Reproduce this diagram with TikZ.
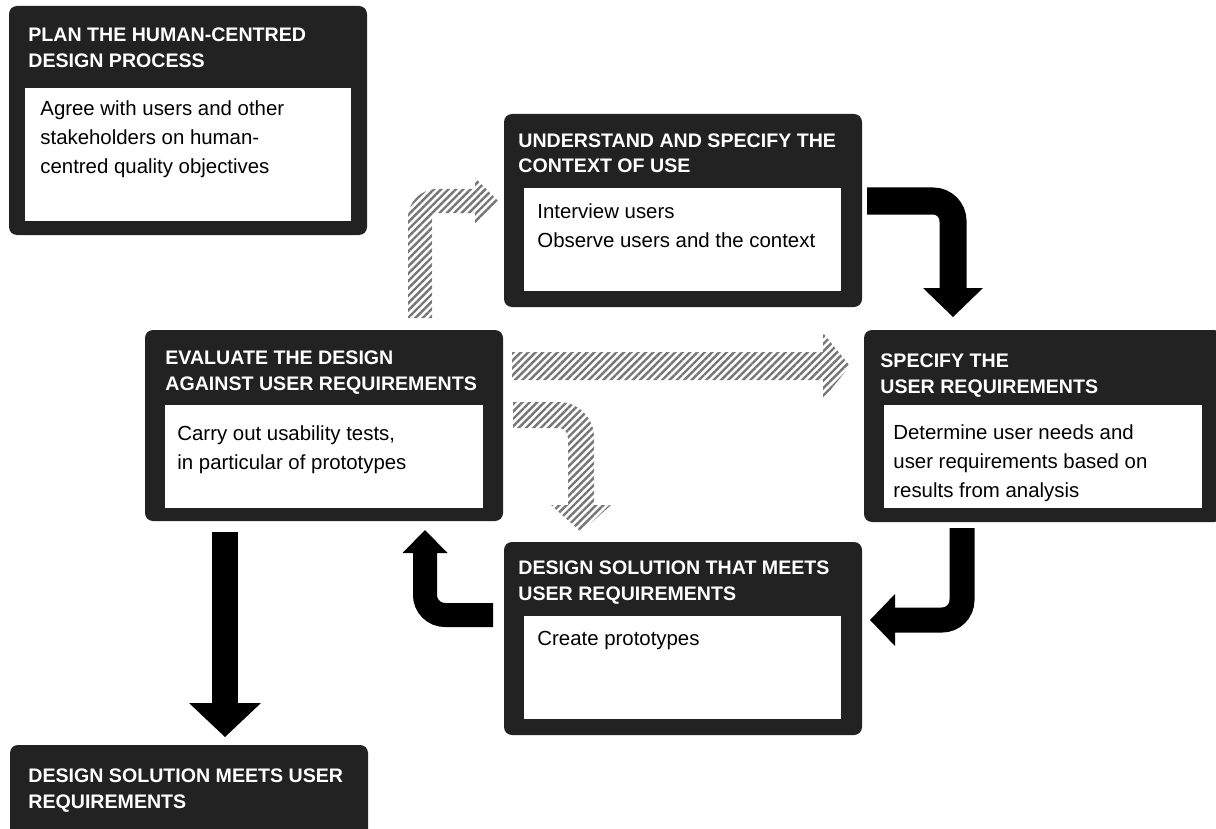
\documentclass[tikz,border=0pt]{standalone}
\usepackage{fontspec}
\setmainfont{Liberation Sans}
\usetikzlibrary{arrows.meta,patterns.meta}

\definecolor{phasegray}{HTML}{222222}
\definecolor{hatchgray}{HTML}{767676}

\tikzset{
  phase/.style={fill=phasegray, rounded corners=4pt, anchor=north west,
    inner sep=0pt, outer sep=0pt, minimum width=179pt},
  phasebody/.style={fill=white, anchor=north west, inner sep=0pt, outer sep=0pt},
  phasetitle/.style={text=white, font=\fontsize{9.8}{13}\selectfont\bfseries,
    anchor=base west, align=left, inner sep=0pt},
  phasetext/.style={font=\fontsize{10.2}{14.5}\selectfont,
    anchor=base west, align=left, inner sep=0pt},
  blockarrow/.style={line width=#1, rounded corners=10pt},
  hatcharrow/.style={pattern={Lines[angle=45,distance=2.6pt,line width=1.2pt]},
    pattern color=hatchgray},
}

\begin{document}
\begin{tikzpicture}[x=0.5pt, y=-0.5pt]
  \useasboundingbox (0,0) rectangle (1216,829);

  % plan (texts placed at their last baseline)
  \node[phase, minimum height=114.5pt] (plan) at (9,6) {};
  \node[phasebody, minimum width=163pt, minimum height=66.5pt] (planbody) at (25,88) {};
  \node[phasetitle] (plantitle) at (28,68) {PLAN THE HUMAN-CENTRED\\DESIGN PROCESS};
  \node[phasetext] (plantext) at (40,174) {Agree with users and other\\stakeholders on human-\\centred quality objectives};

  % context of use
  \node[phase, minimum height=96.5pt] (context) at (504,114) {};
  \node[phasebody, minimum width=158.5pt, minimum height=51.5pt] (contextbody) at (524,188) {};
  \node[phasetitle] (contexttitle) at (518,173) {UNDERSTAND AND SPECIFY THE\\CONTEXT OF USE};
  \node[phasetext] (contexttext) at (537,248) {Interview users\\Observe users and the context};

  % user requirements
  \node[phase, minimum height=96pt] (reqs) at (864,330) {};
  \node[phasebody, minimum width=159pt, minimum height=51.5pt] (reqsbody) at (884,405) {};
  \node[phasetitle] (reqstitle) at (880,393) {SPECIFY THE\\USER REQUIREMENTS};
  \node[phasetext] (reqstext) at (893,497) {Determine user needs and\\user requirements based on\\results from analysis};

  % evaluate
  \node[phase, minimum height=95.5pt] (eval) at (145,330) {};
  \node[phasebody, minimum width=159pt, minimum height=51.5pt] (evalbody) at (165,405) {};
  \node[phasetitle] (evaltitle) at (165,390) {EVALUATE THE DESIGN\\AGAINST USER REQUIREMENTS};
  \node[phasetext] (evaltext) at (177,469) {Carry out usability tests,\\in particular of prototypes};

  % design solution
  \node[phase, minimum height=96.5pt] (design) at (504,542) {};
  \node[phasebody, minimum width=158.5pt, minimum height=51.5pt] (designbody) at (524,616) {};
  \node[phasetitle] (designtitle) at (518,600) {DESIGN SOLUTION THAT MEETS\\USER REQUIREMENTS};
  \node[phasetext] (designtext) at (537,645) {Create prototypes};

  % result
  \node[phase, minimum height=65pt] (done) at (10,745) {};
  \node[phasetitle] (donetitle) at (28,808) {DESIGN SOLUTION MEETS USER\\REQUIREMENTS};

  % arrow ends
  \coordinate (context-out) at (867,201);
  \coordinate (reqs-in) at (953,317);
  \coordinate (reqs-out) at (962,528);
  \coordinate (design-in) at (870,620);
  \coordinate (design-out) at (493,615);
  \coordinate (eval-in) at (425,530);
  \coordinate (eval-out) at (225,532);
  \coordinate (done-in) at (225,737);

  % black arrows
  \draw[blockarrow=13.5pt, -{Triangle[width=30pt,length=14.5pt,line width=0pt]}]
    (context-out) -- (953,201) -- (reqs-in);
  \draw[blockarrow=12.5pt, -{Triangle[width=26pt,length=12.5pt,line width=0pt]}]
    (reqs-out) -- (962,620) -- (design-in);
  \draw[blockarrow=12pt, -{Triangle[width=22.5pt,length=11.5pt,line width=0pt]}]
    (design-out) -- (425,615) -- (eval-in);
  \draw[line width=13pt, -{Triangle[width=36pt,length=17pt,line width=0pt]}]
    (eval-out) -- (done-in);

  % hatched arrows
  \fill[hatcharrow] (408,318) -- (408,218) .. controls (408,202) and (421,189) .. (437,189)
    -- (475,189) -- (475,178) -- (498,201) -- (475,224) -- (475,213) -- (437,213)
    .. controls (434,213) and (432,215) .. (432,218) -- (432,318) -- cycle;
  \fill[hatcharrow] (512,352) -- (823,352) -- (823,333) -- (850,366) -- (823,399)
    -- (823,380) -- (512,380) -- cycle;
  \fill[hatcharrow] (513,402) -- (559,402) .. controls (578,402) and (594,418) .. (594,437)
    -- (594,505) -- (611,505) -- (581,532) -- (551,505) -- (568,505) -- (568,438)
    .. controls (568,432) and (564,428) .. (558,428) -- (513,428) -- cycle;
\end{tikzpicture}
\end{document}
